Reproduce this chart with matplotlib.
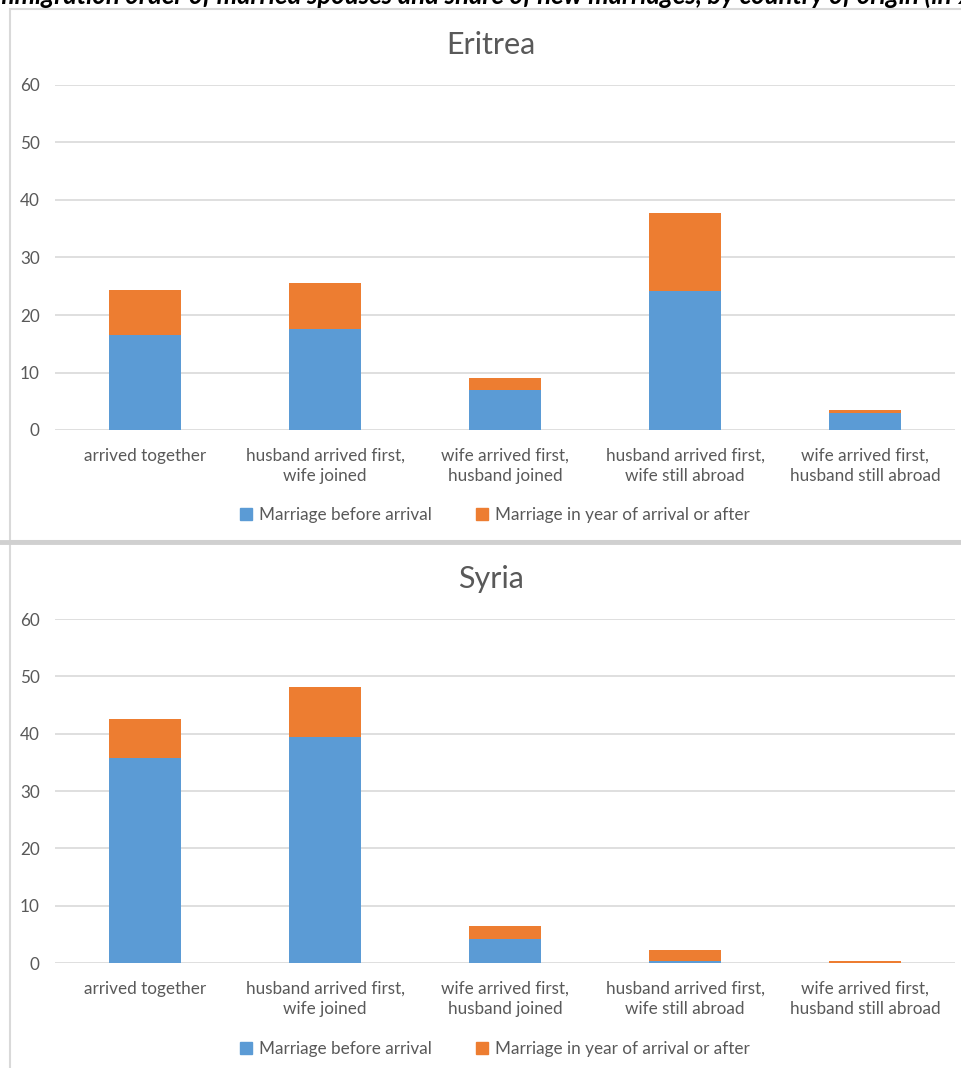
import matplotlib.pyplot as plt
from matplotlib.patches import Rectangle, Patch
from matplotlib.lines import Line2D

plt.rcParams['font.family'] = ['Lato', 'DejaVu Sans']

categories = ["arrived together", "husband arrived first,\nwife joined",
              "wife arrived first,\nhusband joined", "husband arrived first,\nwife still abroad",
              "wife arrived first,\nhusband still abroad"]
series_names = ["Marriage before arrival", "Marriage in year of arrival or after"]

# Eritrea: share married before arrival, share married in/after arrival year
eritrea_before = [16.5, 17.6, 6.9, 24.2, 2.9]
eritrea_after = [7.9, 7.9, 2.1, 13.5, 0.6]

# Syria
syria_before = [35.7, 39.5, 4.1, 0.4, 0.05]
syria_after = [6.9, 8.6, 2.4, 1.8, 0.35]

BLUE = '#5B9BD5'
ORANGE = '#ED7D31'
GRID = '#D9D9D9'
TEXT = '#595959'

W, H = 962, 1068
fig = plt.figure(figsize=(W / 100, H / 100), dpi=100)


def fx(px):
    return px / W


def fy(py):
    return 1 - py / H


# chart frames
fig.patches.append(Rectangle((fx(10), fy(541)), fx(1000), 532 / H, transform=fig.transFigure,
                             fill=False, edgecolor=GRID, lw=1.5))
fig.patches.append(Rectangle((fx(10), fy(1080)), fx(1000), 537 / H, transform=fig.transFigure,
                             fill=False, edgecolor=GRID, lw=1.5))
fig.add_artist(Line2D([0, 1], [fy(541.5), fy(541.5)], transform=fig.transFigure,
                      color='#D0D0D0', lw=3.5))

fig.text(-0.013, fy(4), "Immigration order of married spouses and share of new marriages, "
         "by country of origin (in %)", fontsize=18.5, fontweight='bold', style='italic',
         ha='left', va='baseline', color='black')


def draw_panel(top_px, zero_px, title, before, after, legend_y):
    ax = fig.add_axes([fx(55), fy(zero_px), fx(955) - fx(55), (zero_px - top_px) / H])
    x = list(range(len(categories)))
    ax.bar(x, before, width=0.4, color=BLUE, zorder=3)
    ax.bar(x, after, width=0.4, bottom=before, color=ORANGE, zorder=3)
    ax.set_xlim(-0.5, len(categories) - 0.5)
    ax.set_ylim(0, 60)
    ax.set_yticks(range(0, 61, 10))
    ax.yaxis.grid(True, color=GRID, lw=1.2, zorder=0)
    ax.set_xticks(x)
    ax.set_xticklabels(categories, fontsize=12.3, color=TEXT, linespacing=1.3)
    ax.tick_params(axis='both', length=0, labelsize=12.3, labelcolor=TEXT)
    ax.tick_params(axis='x', pad=13)
    ax.tick_params(axis='y', pad=11)
    for s in ax.spines.values():
        s.set_visible(False)
    fig.text(fx(491), fy(top_px - 40), title, fontsize=22, color=TEXT, ha='center', va='center')
    handles = [Patch(color=BLUE), Patch(color=ORANGE)]
    fig.legend(handles, series_names, loc='center', bbox_to_anchor=(fx(495), fy(legend_y + 1)),
               ncol=2, frameon=False, fontsize=12.3, labelcolor=TEXT, handlelength=0.7,
               handleheight=0.7, handletextpad=0.4, columnspacing=2.6)
    return ax


draw_panel(85, 430, "Eritrea", eritrea_before, eritrea_after, 514)
draw_panel(619, 963, "Syria", syria_before, syria_after, 1048)

fig.savefig('out.png', dpi=100)
